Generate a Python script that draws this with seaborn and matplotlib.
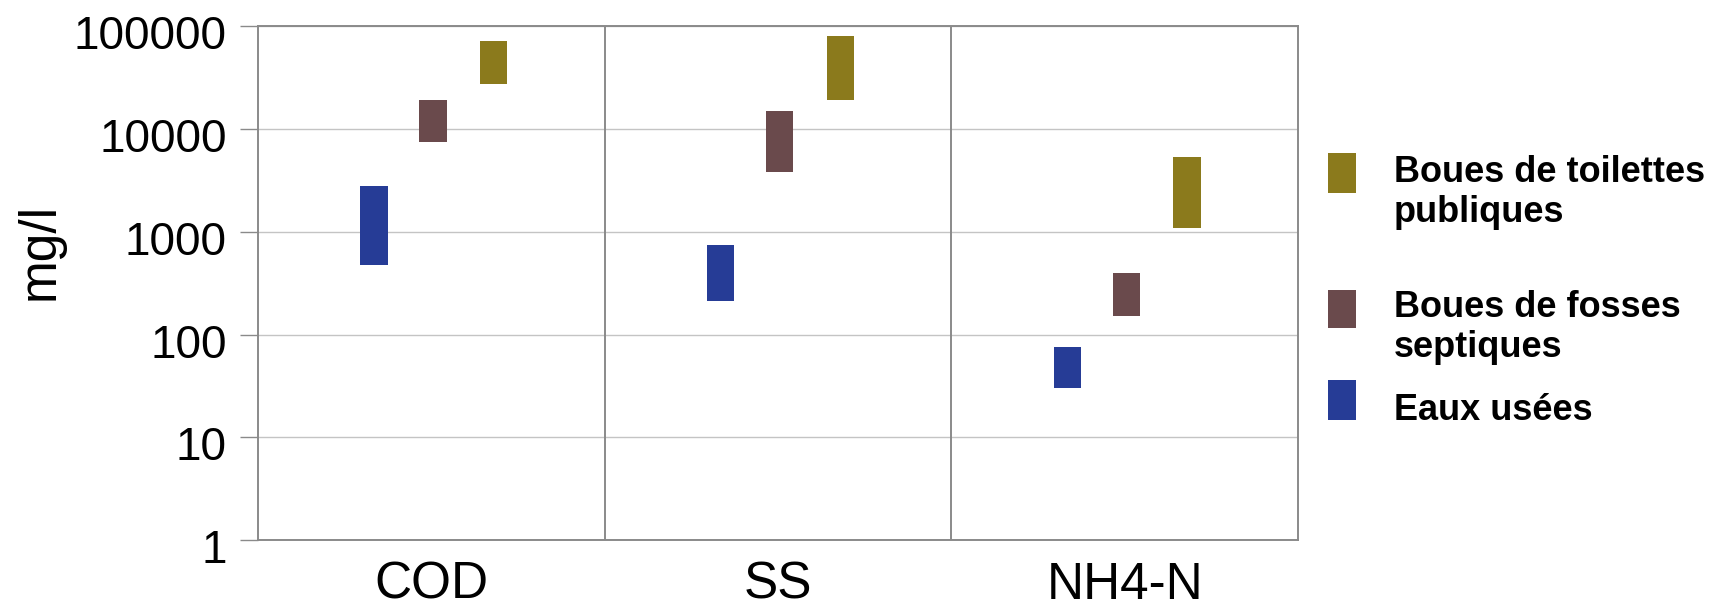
import numpy as np
import pandas as pd
import matplotlib
matplotlib.use("Agg")
import matplotlib.pyplot as plt
import matplotlib.transforms as mtransforms
from matplotlib.patches import Rectangle
import seaborn as sns

# Concentration ranges (mg/l) per parameter and waste stream
parameters = ["COD", "SS", "NH4-N"]
series_names = ["Eaux usées", "Boues de fosses septiques", "Boues de toilettes publiques"]
legend_labels = ["Eaux usées", "Boues de fosses\nseptiques", "Boues de toilettes\npubliques"]

low_eaux = [480, 210, 30]
high_eaux = [2800, 750, 75]
low_fosses = [7500, 3800, 150]
high_fosses = [19000, 15000, 400]
low_toilettes = [27500, 19000, 1100]
high_toilettes = [72000, 80000, 5400]

y_ticks = [1, 10, 100, 1000, 10000, 100000]
colors = ["#263c96", "#6a4a4c", "#8b7a1c"]

lows = [low_eaux, low_fosses, low_toilettes]
highs = [high_eaux, high_fosses, high_toilettes]

sns.set_theme(style="white")
plt.rcParams["font.family"] = ["Liberation Sans", "DejaVu Sans"]

W, H = 1717, 611
fig = plt.figure(figsize=(W / 100, H / 100), dpi=100)
ax = fig.add_axes([258 / W, 1 - 540 / H, 1040 / W, 513.7 / H])

offsets = [-0.165, 0.005, 0.18]
bar_width = 0.079
cat_pos = np.arange(len(parameters))

for name, lo, hi, col, off in zip(series_names, lows, highs, colors, offsets):
    lo = np.asarray(lo, dtype=float)
    hi = np.asarray(hi, dtype=float)
    df = pd.DataFrame({"pos": cat_pos + off, "span": hi - lo})
    sns.barplot(data=df, x="pos", y="span", bottom=lo, native_scale=True,
                width=bar_width, color=col, saturation=1, errorbar=None,
                linewidth=0, ax=ax, zorder=3)

ax.set_yscale("log")
ax.set_ylim(1, 100000)
ax.set_xlim(-0.5, 2.5)

# grid and frame
ax.yaxis.grid(True, color="#c4c4c4", linewidth=1.0, zorder=0)
ax.xaxis.grid(False)
for x_div in [0.5, 1.5]:
    ax.axvline(x_div, color="#8a8a8a", linewidth=1.4, zorder=1)
for sp in ax.spines.values():
    sp.set_visible(True)
    sp.set_color("#8a8a8a")
    sp.set_linewidth(1.4)

ax.set_yticks(y_ticks)
ax.set_yticklabels([str(v) for v in y_ticks])
ax.yaxis.set_minor_locator(matplotlib.ticker.NullLocator())
ax.tick_params(axis="y", which="major", left=True, length=13, width=1.0,
               color="#8a8a8a", labelsize=33, pad=9.4, labelcolor="black")
label_shift = mtransforms.ScaledTranslation(0, -6 / 100, fig.dpi_scale_trans)
for lab in ax.get_yticklabels():
    lab.set_transform(lab.get_transform() + label_shift)

ax.set_xticks(cat_pos)
ax.set_xticklabels(parameters)
ax.tick_params(axis="x", bottom=False, length=0, labelsize=37, pad=15,
               labelcolor="black")
ax.set_xlabel("")
ax.set_ylabel("mg/l", fontsize=37, color="black")
ax.yaxis.set_label_coords(-0.1856, 0.5615)

# legend at the right, drawn as swatches and labels in figure space
swatches = [(380, 420), (290, 328), (153, 193)]
last_baselines = [420, 357, 222]
for lab, col, (y0, y1), yb in zip(legend_labels, colors, swatches, last_baselines):
    fig.add_artist(Rectangle((1328 / W, 1 - y1 / H), 28 / W, (y1 - y0) / H,
                             transform=fig.transFigure, facecolor=col,
                             edgecolor="none"))
    fig.text(1394 / W, 1 - yb / H, lab, fontsize=26, fontweight="bold",
             va="baseline", ha="left", color="black", linespacing=1.18)

fig.savefig("out.png", dpi=100)
